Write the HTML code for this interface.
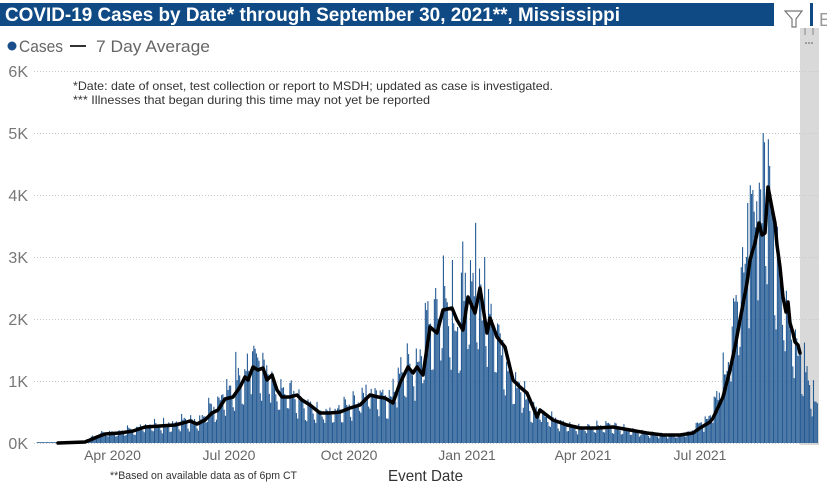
<!DOCTYPE html>
<html>
<head>
<meta charset="utf-8">
<style>
html,body{margin:0;padding:0;background:#fff;}
svg{display:block;}
text{font-family:"Liberation Sans",Arial,sans-serif;}
</style>
</head>
<body>
<svg id="c" xmlns="http://www.w3.org/2000/svg" width="827" height="486" viewBox="0 0 827 486">
<rect x="0" y="0" width="827" height="486" fill="#fff"/>
<!-- title bar -->
<rect x="0" y="3" width="774" height="23" fill="#104a85"/>
<text x="5" y="21" font-size="19" font-weight="bold" fill="#fff" textLength="615" lengthAdjust="spacingAndGlyphs">COVID-19 Cases by Date* through September 30, 2021**, Mississippi</text>
<rect x="810" y="3" width="3" height="23" fill="#104a85"/>
<path d="M785,11 L802,11 L796,19 L796,27 L792,27 L792,19 Z" fill="none" stroke="#777" stroke-width="1.2"/>
<text x="819" y="26" font-size="18" fill="#999">E</text>
<!-- grey not-yet-reported area -->
<rect x="800" y="28" width="19" height="417" fill="#d9d9d9"/>
<line x1="805" y1="28" x2="805" y2="35" stroke="#888" stroke-width="1"/>
<line x1="813" y1="28" x2="813" y2="35" stroke="#888" stroke-width="1"/>
<circle cx="806" cy="43" r="0.8" fill="#555"/><circle cx="809" cy="43" r="0.8" fill="#555"/><circle cx="812" cy="43" r="0.8" fill="#555"/>
<!-- legend -->
<circle cx="12" cy="46" r="4.5" fill="#1a4e8b"/>
<text x="19" y="52" font-size="17" fill="#666" textLength="44" lengthAdjust="spacingAndGlyphs">Cases</text>
<line x1="70" y1="46" x2="86" y2="46" stroke="#333" stroke-width="2"/>
<text x="96" y="52" font-size="17" fill="#666" textLength="114" lengthAdjust="spacingAndGlyphs">7 Day Average</text>
<!-- gridlines -->
<g stroke="#c8c8c8" stroke-width="1" stroke-dasharray="1 2">
<line x1="34" y1="443.5" x2="819" y2="443.5"/>
<line x1="34" y1="381.5" x2="819" y2="381.5"/>
<line x1="34" y1="319.5" x2="819" y2="319.5"/>
<line x1="34" y1="257.5" x2="819" y2="257.5"/>
<line x1="34" y1="195.5" x2="819" y2="195.5"/>
<line x1="34" y1="133.5" x2="819" y2="133.5"/>
<line x1="34" y1="71.5" x2="819" y2="71.5"/>
</g>
<g font-size="16" fill="#777" text-anchor="end">
<text x="28" y="449">0K</text>
<text x="28" y="387">1K</text>
<text x="28" y="325">2K</text>
<text x="28" y="263">3K</text>
<text x="28" y="201">4K</text>
<text x="28" y="139">5K</text>
<text x="28" y="77">6K</text>
</g>
<!-- annotations -->
<text x="73" y="90" font-size="12" fill="#333" textLength="480" lengthAdjust="spacingAndGlyphs">*Date: date of onset, test collection or report to MSDH; updated as case is investigated.</text>
<text x="73" y="104" font-size="12" fill="#333" textLength="357" lengthAdjust="spacingAndGlyphs">*** Illnesses that began during this time may not yet be reported</text>
<g id="bars"></g>
<g id="line"></g>
<!-- x axis labels -->
<g font-size="14" fill="#666" text-anchor="middle">
<text x="112.5" y="460">Apr 2020</text>
<text x="229" y="460">Jul 2020</text>
<text x="349" y="460">Oct 2020</text>
<text x="467" y="460">Jan 2021</text>
<text x="583" y="460">Apr 2021</text>
<text x="700" y="460">Jul 2021</text>
</g>
<text x="110" y="479" font-size="11" fill="#333" textLength="187" lengthAdjust="spacingAndGlyphs">**Based on available data as of 6pm CT</text>
<text x="388" y="481" font-size="16" fill="#333" textLength="75" lengthAdjust="spacingAndGlyphs">Event Date</text>
</svg>
<script>
(function(){
var pts=[[58,443],[85,442],[90,440],[97,437],[105,434],[120,433],[133,431],[145,427],[160,426],[175,425],[183,423],[190,421],[197,424],[205,420],[212,413],[218,410],[225,399],[233,397],[240,387],[245,377],[248,380],[253,367],[258,370],[263,368],[267,380],[272,375],[277,390],[282,397],[290,397],[297,395],[302,400],[310,405],[320,413],[330,413],[340,412],[350,408],[360,405],[370,395],[378,397],[385,398],[393,403],[400,383],[408,367],[413,373],[417,367],[423,375],[430,327],[437,333],[443,310],[452,308],[457,320],[463,330],[468,297],[475,313],[480,288],[487,333],[490,318],[497,337],[505,347],[513,380],[520,387],[527,393],[533,407],[537,417],[540,410],[553,420],[567,425],[580,428],[597,428],[613,427],[630,430],[647,433],[663,435],[680,435],[693,433],[700,428],[710,422],[713,418],[723,397],[730,370],[735,347],[740,320],[747,283],[750,260],[752,253],[755,243],[759,223],[762,235],[765,233],[768,187],[772,208],[775,223],[777,245],[780,267],[783,297],[786,312],[788,302],[790,323],[793,333],[795,342],[798,345],[800,353]];
function lineY(x){
  if(x<=pts[0][0])return pts[0][1];
  for(var i=1;i<pts.length;i++){
    if(x<=pts[i][0]){var a=pts[i-1],b=pts[i];var t=(x-a[0])/(b[0]-a[0]);return a[1]+t*(b[1]-a[1]);}
  }
  return pts[pts.length-1][1];
}
var seed=987654;
function rnd(){seed=(seed*1103515245+12345)%2147483648;return seed/2147483648;}
var pat=[1.1,1.08,1.02,0.7,0.65,1.3,1.15];
var spikes={505:5.0,506:4.85,502:4.2,497:4.08,493:3.87,500:3.9,489:3.16,282:3.55,272:3.25,289:3.0,96:1.47,109:1.48};
var d='';
for(var k=-58;k<=547;k++){
  var x=112+1.2895*k;
  var v;
  var p=pat[((k%7)+7)%7];
  var n=0.85+0.3*rnd();
  if(x<58){v=0.015;}
  else if(x<=800){
    var y=lineY(Math.min(x+4,800));
    v=(443-y)/62*p*n;
  } else {
    var avg=1.3-(x-800)/18*0.8;
    v=avg*p*n;
  }
  if(v>4.9)v=4.9;
  if(spikes[k]!==undefined)v=spikes[k];
  var h=v*62;
  if(h<0.8)h=0.8;
  d+='M'+(x-0.55).toFixed(2)+',443h1.1v'+(-h).toFixed(2)+'h-1.1z';
}
var ns='http://www.w3.org/2000/svg';
var bp=document.createElementNS(ns,'path');
bp.setAttribute('d',d);bp.setAttribute('fill','#245a94');
document.getElementById('bars').appendChild(bp);
var ld='M'+pts.map(function(p){return p[0]+','+p[1];}).join(' L');
var lp=document.createElementNS(ns,'path');
lp.setAttribute('d',ld);lp.setAttribute('fill','none');lp.setAttribute('stroke','#000');
lp.setAttribute('stroke-width','3.5');lp.setAttribute('stroke-linejoin','round');lp.setAttribute('stroke-linecap','round');
document.getElementById('line').appendChild(lp);
})();
</script>
</body>
</html>
